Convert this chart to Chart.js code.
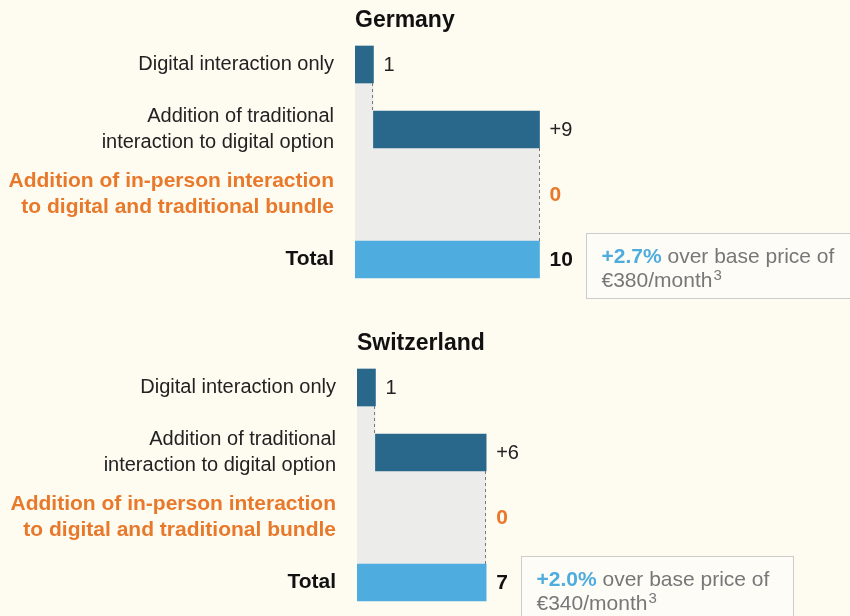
<!DOCTYPE html>
<html>
<head>
<meta charset="utf-8">
<script src="https://cdn.jsdelivr.net/npm/chart.js@4.4.1/dist/chart.umd.min.js"></script>
<style>
  html, body { margin:0; padding:0; background:#fefbf1; }
  .wrap { position:absolute; left:0; width:850px; height:308px; }
  canvas { display:block; }
</style>
</head>
<body>
<div class="wrap" style="top:0"><canvas id="chartDE" width="850" height="308"></canvas></div>
<div class="wrap" style="top:308px"><canvas id="chartCH" width="850" height="308"></canvas></div>
<script>
// ---- data ----
const rowLabels = [
  'Digital interaction only',
  ['Addition of traditional', 'interaction to digital option'],
  ['Addition of in-person interaction', 'to digital and traditional bundle'],
  'Total'
];
const germanySteps = [1, 9, 0];
const germanyTotal = 10;
const germanyNote = ['+2.7%', ' over base price of', '€380/month', '3'];
const switzerlandSteps = [1, 6, 0];
const switzerlandTotal = 7;
const switzerlandNote = ['+2.0%', ' over base price of', '€340/month', '3'];

// ---- colours ----
const DARK = '#29688b', LIGHT = '#4eacde', GREY = '#ecedea', ORANGE = '#e8792b';
const TEXT = '#222222', NOTE = '#777777';
const FONT = "'Liberation Sans', Arial, Helvetica, sans-serif";

function waterfall(steps, total) {
  let cum = 0;
  const d = steps.map(function(v) { const r = [cum, cum + v]; cum += v; return r; });
  d.push([0, total]);
  return d;
}

const waterfallPlugin = {
  id: 'waterfallDeco',
  beforeDatasetsDraw(chart) {
    const meta = chart.getDatasetMeta(0);
    const xs = chart.scales.x;
    const ctx = chart.ctx;
    const n = meta.data.length;
    const tot = meta.data[n - 1];
    const totTop = tot.y - tot.height / 2;
    ctx.save();
    ctx.fillStyle = GREY;
    const data = chart.data.datasets[0].data;
    for (let i = 0; i < n - 1; i++) {
      const b = meta.data[i];
      const x0 = xs.getPixelForValue(0), x1 = xs.getPixelForValue(data[i][1]);
      const y0 = b.y + b.height / 2;
      ctx.fillRect(x0, y0, x1 - x0, totTop - y0);
    }
    ctx.restore();
  },
  afterDatasetsDraw(chart) {
    const o = chart.options.plugins.waterfallDeco;
    const meta = chart.getDatasetMeta(0);
    const xs = chart.scales.x;
    const ctx = chart.ctx;
    const data = chart.data.datasets[0].data;
    const n = data.length;
    ctx.save();
    // connectors
    ctx.strokeStyle = '#7a7a7a';
    ctx.lineWidth = 1;
    ctx.setLineDash([3, 3]);
    for (let i = 0; i < n - 1; i++) {
      if (data[i][1] === data[i][0]) continue;
      let j = i + 1;
      while (j < n - 1 && data[j][1] === data[j][0]) j++;
      const a = meta.data[i], b = meta.data[j];
      const x = Math.round(xs.getPixelForValue(data[i][1])) - 0.5;
      ctx.beginPath();
      ctx.moveTo(x, a.y + a.height / 2);
      ctx.lineTo(x, b.y - b.height / 2);
      ctx.stroke();
    }
    ctx.setLineDash([]);
    // value labels
    ctx.textBaseline = 'middle';
    ctx.textAlign = 'left';
    let totEnd = 0;
    for (let i = 0; i < n; i++) {
      const el = meta.data[i];
      const v = data[i][1] - data[i][0];
      let txt, font, col;
      if (i === n - 1) { txt = String(v); font = 'bold 21px ' + FONT; col = '#111'; }
      else if (i === 0) { txt = String(v); font = '20px ' + FONT; col = TEXT; }
      else if (v === 0) { txt = '0'; font = 'bold 21px ' + FONT; col = ORANGE; }
      else { txt = '+' + v; font = '20px ' + FONT; col = TEXT; }
      const x = xs.getPixelForValue(data[i][1]) + 10;
      ctx.font = font; ctx.fillStyle = col;
      ctx.fillText(txt, x, el.y + 1);
      if (i === n - 1) totEnd = x + ctx.measureText(txt).width;
    }
    // title
    ctx.font = 'bold 23px ' + FONT;
    ctx.fillStyle = '#111';
    ctx.fillText(o.title, chart.chartArea.left, chart.chartArea.top - 11);
    // note box
    const tot = meta.data[n - 1];
    const bx = Math.round(totEnd + 13) + 0.5, by = Math.round(tot.y - tot.height / 2 - 8) + 0.5;
    ctx.fillStyle = '#fefcf6';
    ctx.fillRect(bx, by, 272, 65);
    ctx.strokeStyle = '#cccccc';
    ctx.strokeRect(bx, by, 272, 65);
    const note = o.note;
    const tx = bx + 15;
    ctx.textBaseline = 'alphabetic';
    ctx.font = 'bold 21px ' + FONT; ctx.fillStyle = LIGHT;
    ctx.fillText(note[0], tx, by + 29);
    const w0 = ctx.measureText(note[0]).width;
    ctx.font = '21px ' + FONT; ctx.fillStyle = NOTE;
    ctx.fillText(note[1], tx + w0, by + 29);
    ctx.fillText(note[2], tx, by + 53);
    const w2 = ctx.measureText(note[2]).width;
    ctx.font = '15px ' + FONT;
    ctx.fillText(note[3], tx + w2 + 1, by + 46);
    ctx.restore();
  }
};

function makeChart(id, steps, total, title, note, axisWidth, pad) {
  const data = waterfall(steps, total);
  const colors = data.map(function(d, i) {
    if (i === data.length - 1) return LIGHT;
    return d[1] === d[0] ? 'rgba(0,0,0,0)' : DARK;
  });
  return new Chart(document.getElementById(id), {
    type: 'bar',
    data: {
      labels: rowLabels,
      datasets: [{ data: data, backgroundColor: colors, barThickness: 37, borderWidth: 0 }]
    },
    options: {
      indexAxis: 'y',
      responsive: false,
      animation: false,
      devicePixelRatio: 1,
      layout: { padding: pad },
      plugins: {
        legend: { display: false },
        tooltip: { enabled: false },
        waterfallDeco: { title: title, note: note }
      },
      scales: {
        x: { display: false, min: 0, max: 20 },
        y: {
          grid: { display: false, drawTicks: false },
          border: { display: false },
          afterFit: function(s) { s.width = axisWidth; s.paddingTop = 0; s.paddingBottom = 0; },
          ticks: {
            padding: 21,
            color: function(c) { return c.index === 2 ? ORANGE : (c.index === 3 ? '#111' : TEXT); },
            font: function(c) {
              return c.index >= 2
                ? { family: FONT, size: 21, weight: 'bold', lineHeight: 1.25 }
                : { family: FONT, size: 20, weight: 'normal', lineHeight: 1.3 };
            }
          }
        }
      }
    },
    plugins: [waterfallPlugin]
  });
}

makeChart('chartDE', germanySteps, germanyTotal, 'Germany', germanyNote, 355, { top: 32, bottom: 16, left: 0, right: 126 });
makeChart('chartCH', switzerlandSteps, switzerlandTotal, 'Switzerland', switzerlandNote, 357, { top: 47, bottom: 1, left: 0, right: 124 });
</script>
</body>
</html>
